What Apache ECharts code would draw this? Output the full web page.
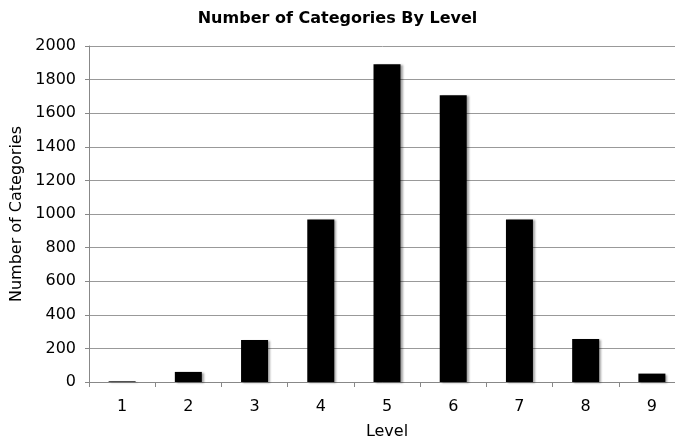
<!DOCTYPE html>
<html>
<head>
<meta charset="utf-8">
<script src="https://cdn.jsdelivr.net/npm/echarts@6/dist/echarts.min.js"></script>
<style>
html,body{margin:0;padding:0;background:#fff;}
#chart{width:675px;height:441px;}
</style>
</head>
<body>
<div id="chart"></div>
<script>
const categories = ['1','2','3','4','5','6','7','8','9'];
const values = [4, 60, 250, 968, 1891, 1707, 968, 256, 50];
const yTicks = {min: 0, max: 2000, interval: 200};

const chart = echarts.init(document.getElementById('chart'));
const font = 'DejaVu Sans, Verdana, sans-serif';
chart.setOption({
  animation: false,
  backgroundColor: '#fff',
  title: {
    text: 'Number of Categories By Level',
    left: 'center',
    top: 6,
    textStyle: {fontFamily: font, fontSize: 16, fontWeight: 'bold', color: '#000'}
  },
  grid: {left: 89, right: -10, top: 46, bottom: 59, containLabel: false, outerBoundsMode: 'none'},
  xAxis: {
    type: 'category',
    data: categories,
    name: 'Level',
    nameLocation: 'middle',
    nameGap: 42,
    nameTextStyle: {fontFamily: font, fontSize: 16, color: '#000'},
    axisLine: {lineStyle: {color: '#888', width: 1}},
    axisTick: {show: true, length: 5, lineStyle: {color: '#888'}},
    axisLabel: {fontFamily: font, fontSize: 16, color: '#000', margin: 17}
  },
  yAxis: {
    type: 'value',
    min: yTicks.min, max: yTicks.max, interval: yTicks.interval,
    name: 'Number of Categories',
    nameLocation: 'middle',
    nameGap: 59,
    nameRotate: 90,
    nameTextStyle: {fontFamily: font, fontSize: 16, color: '#000'},
    axisLine: {show: true, lineStyle: {color: '#888', width: 1}},
    axisTick: {show: true, length: 4, lineStyle: {color: '#888'}},
    axisLabel: {fontFamily: font, fontSize: 16, color: '#000', margin: 13, formatter: v => String(v)},
    splitLine: {show: true, lineStyle: {color: '#999', width: 1}}
  },
  series: [{
    type: 'bar',
    data: values,
    barWidth: 27,
    itemStyle: {
      color: '#000',
      shadowColor: 'rgba(0,0,0,0.35)',
      shadowOffsetX: 2,
      shadowOffsetY: 1,
      shadowBlur: 2
    }
  }]
});
</script>
</body>
</html>
